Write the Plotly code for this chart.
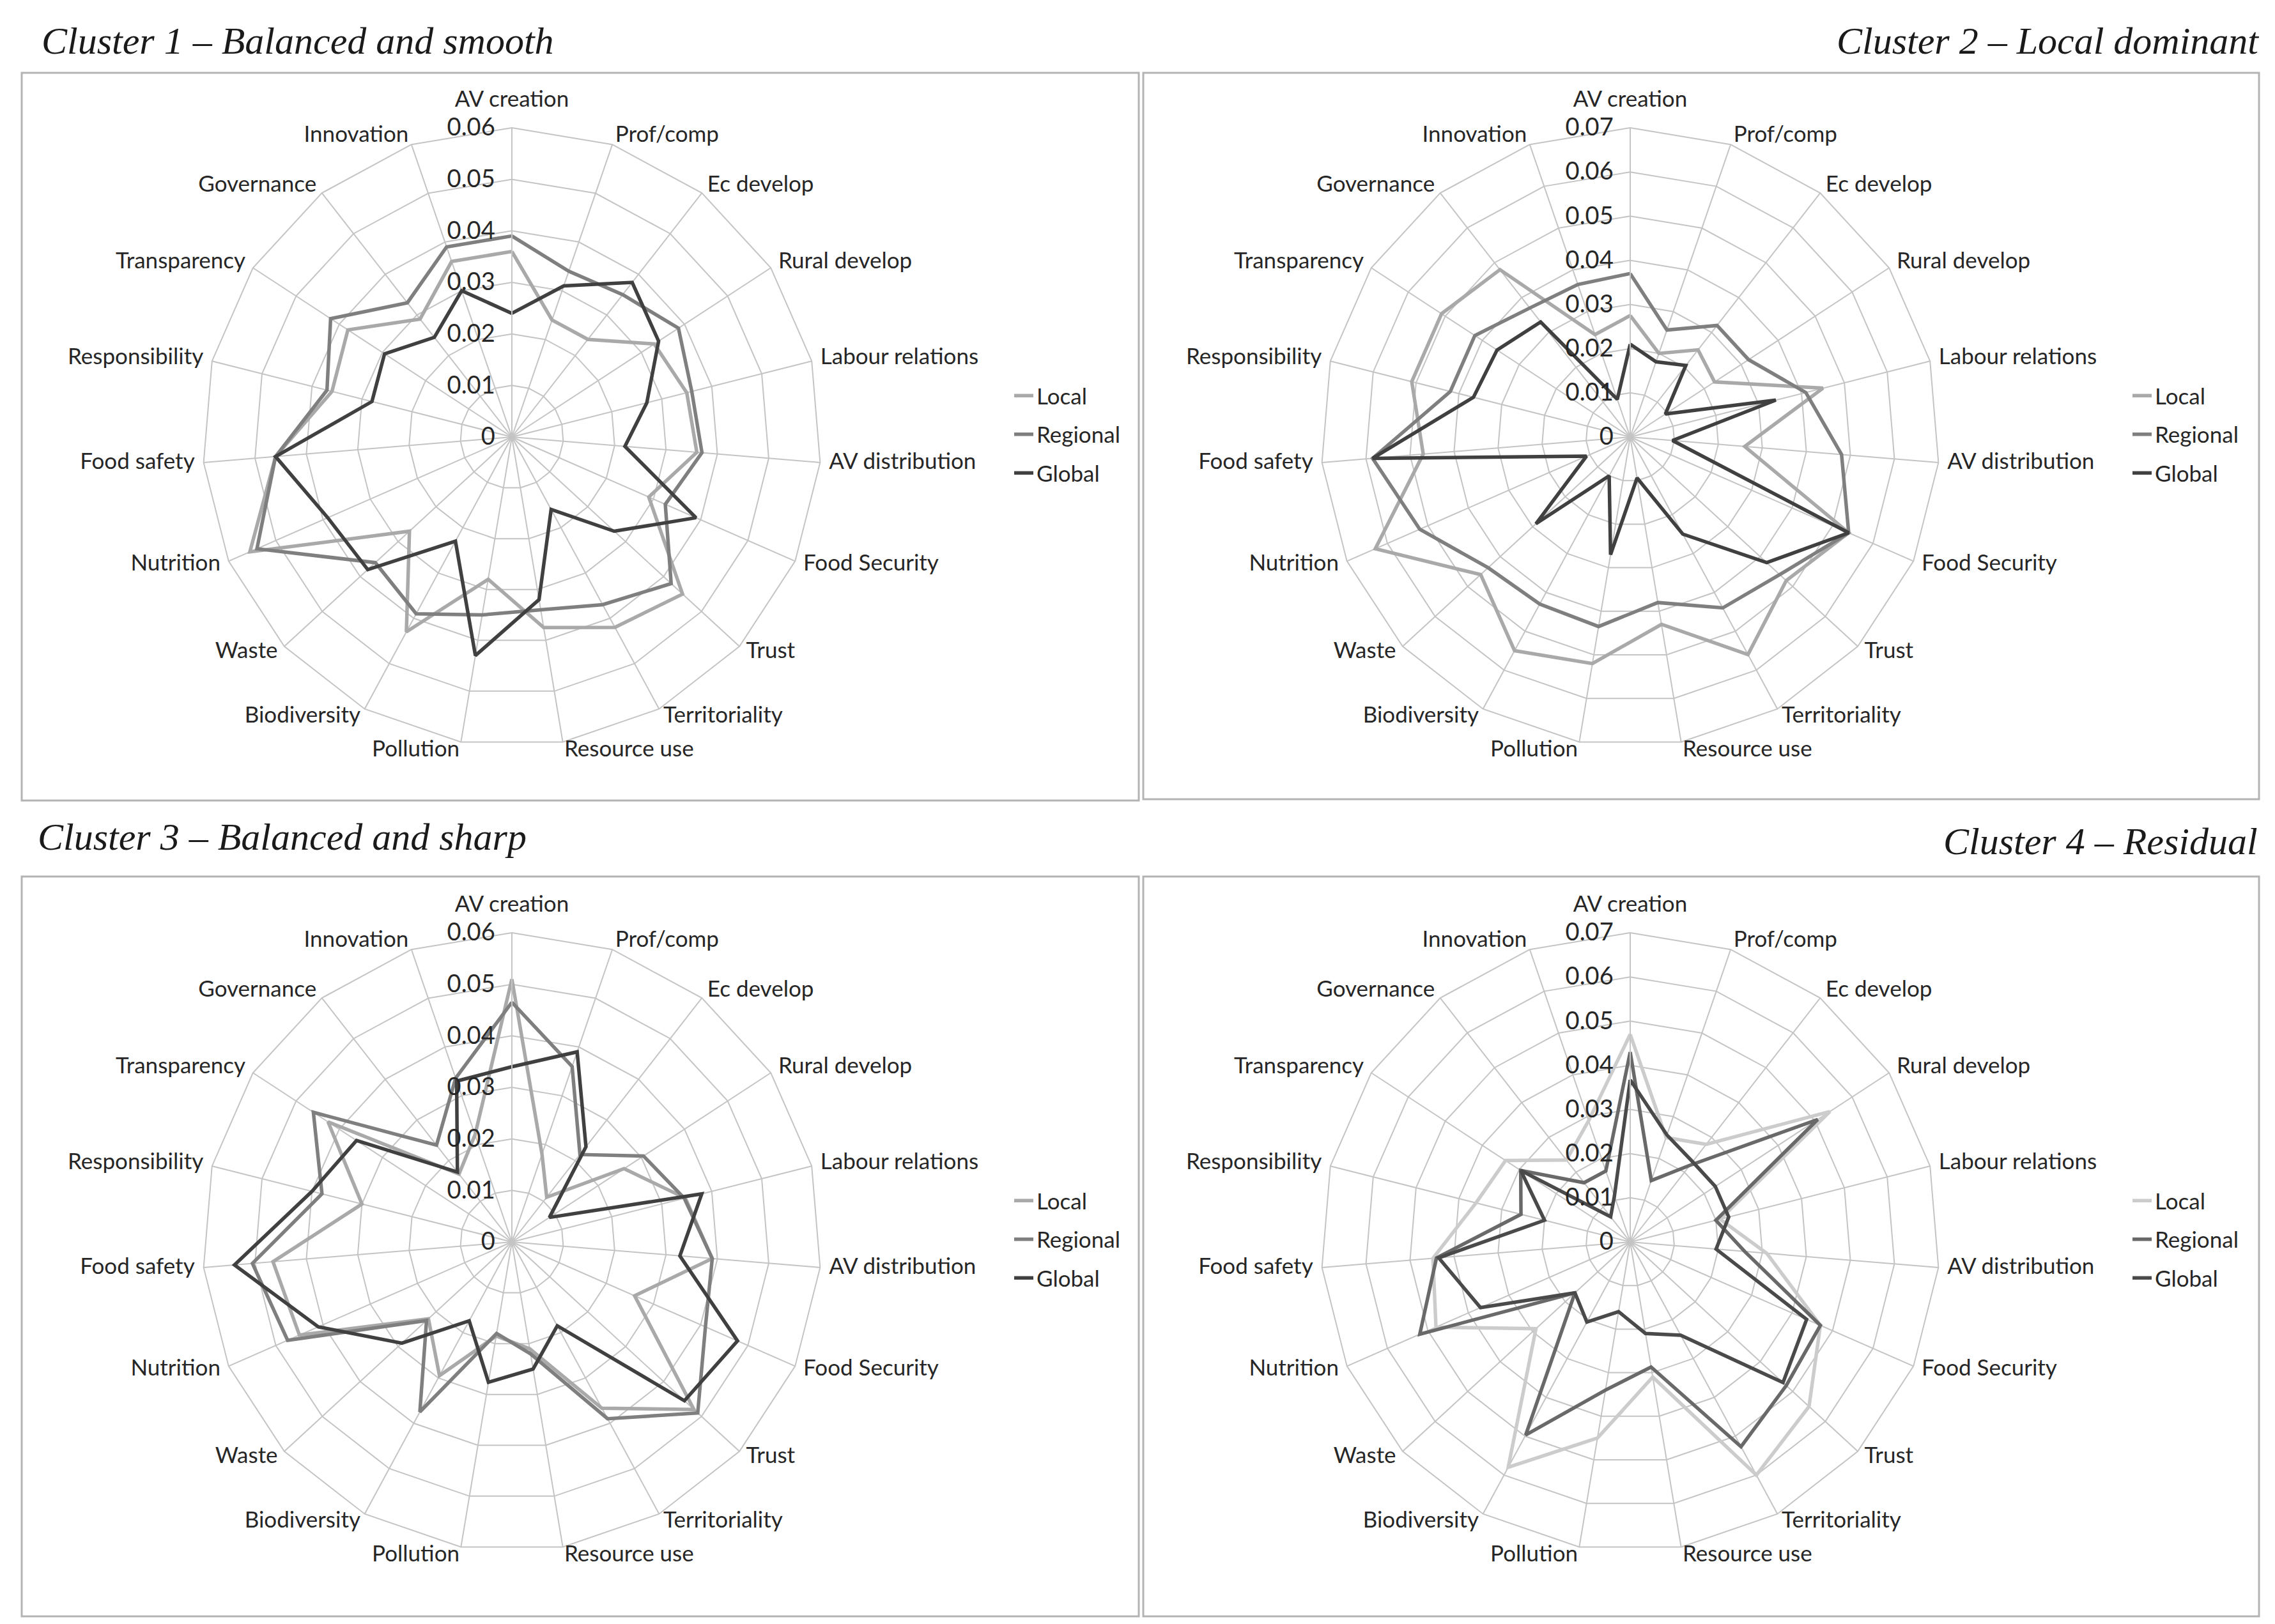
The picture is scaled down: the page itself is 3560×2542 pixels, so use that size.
import plotly.graph_objects as go

W, H = 3560, 2542

categories = ["AV creation", "Prof/comp", "Ec develop", "Rural develop", "Labour relations",
              "AV distribution", "Food Security", "Trust", "Territoriality", "Resource use",
              "Pollution", "Biodiversity", "Waste", "Nutrition", "Food safety",
              "Responsibility", "Transparency", "Governance", "Innovation"]

series_names = ["Local", "Regional", "Global"]

# Cluster 1 - Balanced and smooth
c1_local    = [0.036, 0.024, 0.024, 0.033, 0.035, 0.036, 0.029, 0.045, 0.042, 0.0375, 0.028, 0.043, 0.027, 0.0555, 0.046, 0.036, 0.038, 0.029, 0.036]
c1_regional = [0.039, 0.034, 0.035, 0.0386, 0.036, 0.037, 0.0325, 0.042, 0.037, 0.034, 0.035, 0.039, 0.036, 0.054, 0.046, 0.037, 0.042, 0.033, 0.039]
c1_global   = [0.024, 0.031, 0.038, 0.034, 0.027, 0.022, 0.039, 0.027, 0.016, 0.032, 0.043, 0.023, 0.038, 0.039, 0.046, 0.028, 0.0295, 0.0245, 0.030]

# Cluster 2 - Local dominant
c2_local    = [0.0275, 0.020, 0.025, 0.0228, 0.045, 0.026, 0.054, 0.048, 0.056, 0.043, 0.052, 0.055, 0.046, 0.063, 0.047, 0.051, 0.051, 0.048, 0.0245]
c2_regional = [0.037, 0.0256, 0.032, 0.032, 0.041, 0.048, 0.054, 0.046, 0.044, 0.038, 0.0435, 0.043, 0.0437, 0.052, 0.0585, 0.042, 0.042, 0.037, 0.0365]
c2_global   = [0.021, 0.018, 0.0205, 0.0095, 0.034, 0.0096, 0.054, 0.042, 0.025, 0.0094, 0.027, 0.010, 0.029, 0.0108, 0.0585, 0.0366, 0.036, 0.033, 0.009]

# Cluster 3 - Balanced and sharp
c3_local    = [0.051, 0.018, 0.011, 0.026, 0.0347, 0.039, 0.026, 0.048, 0.0367, 0.021, 0.0185, 0.0295, 0.022, 0.045, 0.0465, 0.030, 0.0426, 0.0167, 0.022]
c3_regional = [0.0465, 0.036, 0.0215, 0.0305, 0.0345, 0.039, 0.041, 0.049, 0.039, 0.022, 0.018, 0.0375, 0.0225, 0.0475, 0.0505, 0.038, 0.046, 0.0238, 0.0336]
c3_global   = [0.034, 0.039, 0.0234, 0.0087, 0.038, 0.0327, 0.0478, 0.0455, 0.0185, 0.025, 0.0276, 0.0174, 0.029, 0.041, 0.054, 0.040, 0.036, 0.0172, 0.033]

# Cluster 4 - Residual
c4_local    = [0.047, 0.025, 0.028, 0.054, 0.021, 0.031, 0.047, 0.055, 0.060, 0.031, 0.045, 0.058, 0.029, 0.048, 0.0448, 0.036, 0.0337, 0.0235, 0.029]
c4_regional = [0.043, 0.0147, 0.022, 0.0507, 0.020, 0.026, 0.047, 0.048, 0.0527, 0.0287, 0.034, 0.0497, 0.017, 0.052, 0.044, 0.0255, 0.0296, 0.017, 0.017]
c4_global   = [0.0367, 0.0256, 0.023, 0.023, 0.023, 0.0195, 0.0436, 0.047, 0.024, 0.021, 0.016, 0.0206, 0.017, 0.037, 0.0435, 0.020, 0.0296, 0.0072, 0.011]

cluster_titles = ["Cluster 1 \u2013 Balanced and smooth", "Cluster 2 \u2013 Local dominant",
                  "Cluster 3 \u2013 Balanced and sharp", "Cluster 4 \u2013 Residual"]
radial_max = [0.06, 0.07, 0.06, 0.07]

clusters = [
    [c1_local, c1_regional, c1_global],
    [c2_local, c2_regional, c2_global],
    [c3_local, c3_regional, c3_global],
    [c4_local, c4_regional, c4_global],
]

colors_std = ["#a9a9a9", "#7f7f7f", "#404040"]
colors_c4 = ["#cccccc", "#696969", "#4a4a4a"]
palettes = [colors_std, colors_std, colors_std, colors_c4]

LABEL_FONT = "Lato"
TITLE_FONT = "Liberation Serif"
TEXT_COL = "#262626"


def px_x(v):
    return v / W


def px_y(v):
    return 1 - v / H


# layout geometry (pixels)
centers = [(801, 684), (2551, 684), (801, 1944), (2551, 1944)]
R = 484            # radius of the data polar
LABEL_SCALE = 1.02
R_LABEL = 498 * LABEL_SCALE   # overlay polar carrying the category labels
boxes = [(34, 114, 1782, 1253), (1789, 114, 3535, 1251),
         (34, 1372, 1782, 2530), (1789, 1372, 3535, 2530)]
legend_pos = [(1582, 590), (3332, 590), (1582, 1850), (3332, 1850)]

# category label anchoring, Excel style: top centred, right side left-aligned, left side right-aligned
n_cat = len(categories)
label_positions = []
label_r = []
for i in range(n_cat):
    if i == 0:
        label_positions.append("top center")
        label_r.append(LABEL_SCALE)
    elif i <= n_cat // 2:
        label_positions.append("middle right")
        label_r.append(1.0)
    else:
        label_positions.append("middle left")
        label_r.append(1.0)

fig = go.Figure()

polar_names = ["polar", "polar2", "polar3", "polar4"]
label_polar_names = ["polar5", "polar6", "polar7", "polar8"]
legend_names = ["legend", "legend2", "legend3", "legend4"]

for ci, data in enumerate(clusters):
    for si, vals in enumerate(data):
        fig.add_trace(go.Scatterpolar(
            r=vals + [vals[0]],
            theta=categories + [categories[0]],
            mode="lines",
            name=series_names[si],
            line=dict(color=palettes[ci][si], width=5.5),
            subplot=polar_names[ci],
            legend=legend_names[ci],
            legendgroup=f"c{ci}s{si}",
            hoverinfo="skip",
        ))
    # category labels, drawn on the outer ring of a slightly larger, invisible overlay polar
    fig.add_trace(go.Scatterpolar(
        r=label_r,
        theta=categories,
        mode="text",
        text=categories,
        textposition=label_positions,
        textfont=dict(family=LABEL_FONT, size=35, color=TEXT_COL),
        subplot=label_polar_names[ci],
        showlegend=False,
        hoverinfo="skip",
        cliponaxis=False,
    ))

layout = dict(
    width=W, height=H,
    margin=dict(l=0, r=0, t=0, b=0),
    paper_bgcolor="white",
    plot_bgcolor="white",
    font=dict(family=LABEL_FONT, color=TEXT_COL),
    shapes=[],
    annotations=[],
)

grid_col = "#c4c4c4"
for ci in range(4):
    cx, cy = centers[ci]
    layout[polar_names[ci]] = dict(
        domain=dict(x=[px_x(cx - R), px_x(cx + R)], y=[px_y(cy + R), px_y(cy - R)]),
        bgcolor="white",
        gridshape="linear",
        angularaxis=dict(
            type="category",
            categoryorder="array",
            categoryarray=categories,
            direction="clockwise",
            rotation=90,
            showgrid=True, gridcolor=grid_col, gridwidth=2,
            showline=True, linecolor=grid_col, linewidth=2,
            ticks="",
            showticklabels=False,
        ),
        radialaxis=dict(
            range=[0, radial_max[ci]],
            dtick=0.01,
            tick0=0,
            angle=90,
            side="counterclockwise",
            tickangle=90,
            showgrid=True, gridcolor=grid_col, gridwidth=2,
            showline=True, linecolor=grid_col, linewidth=2,
            ticks="outside", ticklen=12, tickcolor="rgba(0,0,0,0)",
            tickfont=dict(family=LABEL_FONT, size=38, color=TEXT_COL),
        ),
    )
    layout[label_polar_names[ci]] = dict(
        domain=dict(x=[px_x(cx - R_LABEL), px_x(cx + R_LABEL)],
                    y=[px_y(cy + R_LABEL), px_y(cy - R_LABEL)]),
        bgcolor="rgba(0,0,0,0)",
        gridshape="linear",
        angularaxis=dict(
            type="category",
            categoryorder="array",
            categoryarray=categories,
            direction="clockwise",
            rotation=90,
            showgrid=False, showline=False, showticklabels=False, ticks="",
        ),
        radialaxis=dict(range=[0, LABEL_SCALE], visible=False),
    )
    lx, ly = legend_pos[ci]
    layout[legend_names[ci]] = dict(
        x=px_x(lx), y=px_y(ly), xanchor="left", yanchor="top",
        bgcolor="rgba(0,0,0,0)",
        font=dict(family=LABEL_FONT, size=35, color=TEXT_COL),
        tracegroupgap=12,
        traceorder="grouped",
        itemwidth=30,
    )
    x0, y0, x1, y1 = boxes[ci]
    layout["shapes"].append(dict(
        type="rect", xref="paper", yref="paper",
        x0=px_x(x0), x1=px_x(x1), y0=px_y(y1), y1=px_y(y0),
        line=dict(color="#b3b3b3", width=3), fillcolor="rgba(0,0,0,0)", layer="below",
    ))

title_pos = [(63, 64, "left"), (3537, 64, "right"), (57, 1310, "left"), (3535, 1317, "right")]
for ci, (tx, ty, anchor) in enumerate(title_pos):
    layout["annotations"].append(dict(
        text=cluster_titles[ci], xref="paper", yref="paper",
        x=px_x(tx), y=px_y(ty), xanchor=anchor, yanchor="middle",
        showarrow=False,
        font=dict(family=TITLE_FONT, size=60, color="#1a1a1a", style="italic"),
    ))

fig.update_layout(**layout)

fig.write_html("out.html", config={"displayModeBar": False},
               post_script="document.body.style.margin='0';")
